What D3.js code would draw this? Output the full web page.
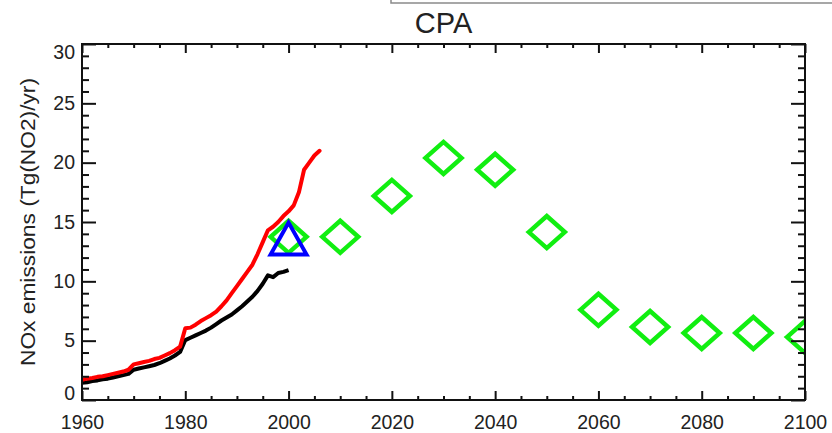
<!DOCTYPE html>
<html>
<head>
<meta charset="utf-8">
<script src="https://cdn.jsdelivr.net/npm/d3@7"></script>
<style>
  body { margin: 0; background: #fff; overflow: hidden; }
  svg { display: block; font-family: "Liberation Sans", Arial, sans-serif; }
</style>
</head>
<body>
<svg id="grafico"></svg>
<script>
// serie storica rossa (1960-2006)
var anniRosso = d3.range(1960, 2007);
var valoriRosso = [1.7, 1.8, 1.85, 1.95, 2.0, 2.1, 2.2, 2.3, 2.4, 2.55,
  3.0, 3.1, 3.2, 3.3, 3.45, 3.55, 3.75, 3.95, 4.2, 4.5,
  6.05, 6.1, 6.35, 6.65, 6.9, 7.15, 7.45, 7.9, 8.4, 9.0,
  9.6, 10.2, 10.8, 11.4, 12.3, 13.3, 14.3, 14.6, 15.0, 15.5,
  15.9, 16.4, 17.5, 19.4, 20.0, 20.6, 21.0];

// serie storica nera (1960-2000)
var anniNero = d3.range(1960, 2001);
var valoriNero = [1.45, 1.5, 1.6, 1.65, 1.75, 1.8, 1.9, 2.0, 2.1, 2.2,
  2.55, 2.65, 2.75, 2.85, 2.95, 3.1, 3.3, 3.5, 3.75, 4.05,
  5.05, 5.25, 5.45, 5.65, 5.85, 6.1, 6.4, 6.7, 6.95, 7.2,
  7.55, 7.9, 8.3, 8.7, 9.2, 9.8, 10.5, 10.35, 10.7, 10.8,
  10.95];

// scenario (rombi verdi)
var anniScenario = [2000, 2010, 2020, 2030, 2040, 2050, 2060, 2070, 2080, 2090, 2100];
var valoriScenario = [13.75, 13.75, 17.2, 20.4, 19.4, 14.15, 7.6, 6.15, 5.65, 5.65, 5.3];

// triangolo blu
var annoTriangolo = [2000];
var valoreTriangolo = [13.6];

// etichette assi
var tickX = [1960, 1980, 2000, 2020, 2040, 2060, 2080, 2100];
var tickY = [0, 5, 10, 15, 20, 25, 30];
var titolo = "CPA";
var etichettaY = "NOx emissions (Tg(NO2)/yr)";

var w = 832, h = 433;
var margin = { top: 44, right: 27, bottom: 33, left: 82 };
var innerWidth = w - margin.left - margin.right;   // 723
var innerHeight = h - margin.top - margin.bottom;  // 356

var xScale = d3.scaleLinear().domain([1960, 2100]).range([0, innerWidth]);
var yScale = d3.scaleLinear().domain([0, 30]).range([innerHeight, 0]);

var grafico = d3.select("#grafico").attr("width", w).attr("height", h);

// riquadro grigio in alto (legenda tagliata)
grafico.append("rect")
  .attr("x", 391).attr("y", -10)
  .attr("width", 470).attr("height", 13)
  .attr("fill", "none")
  .attr("stroke", "#8a8a8a")
  .attr("stroke-width", 1.5);

var area = grafico.append("g")
  .attr("transform", "translate(" + margin.left + "," + margin.top + ")");

area.append("clipPath").attr("id", "clip")
  .append("rect").attr("width", innerWidth).attr("height", innerHeight);

var dati = area.append("g").attr("clip-path", "url(#clip)");

// rombi verdi
var scenario = anniScenario.map(function(a, i) { return { anno: a, v: valoriScenario[i] }; });
dati.selectAll(".rombo")
  .data(scenario)
  .enter().append("path")
  .attr("class", "rombo")
  .attr("d", function(d) {
    var cx = xScale(d.anno), cy = yScale(d.v);
    return "M" + (cx - 18) + "," + cy + "L" + cx + "," + (cy - 16) +
      "L" + (cx + 18) + "," + cy + "L" + cx + "," + (cy + 16) + "Z";
  })
  .attr("fill", "none")
  .attr("stroke", "#11ee11")
  .attr("stroke-width", 4.5);

var linea = d3.line()
  .x(function(d) { return xScale(d.anno); })
  .y(function(d) { return yScale(d.v); });

// linea nera
var nero = anniNero.map(function(a, i) { return { anno: a, v: valoriNero[i] }; });
dati.append("path")
  .datum(nero)
  .attr("d", linea)
  .attr("fill", "none")
  .attr("stroke", "#000")
  .attr("stroke-width", 4)
  .attr("stroke-linejoin", "round");

// linea rossa
var rosso = anniRosso.map(function(a, i) { return { anno: a, v: valoriRosso[i] }; });
dati.append("path")
  .datum(rosso)
  .attr("d", linea)
  .attr("fill", "none")
  .attr("stroke", "#ff0000")
  .attr("stroke-width", 4)
  .attr("stroke-linejoin", "round")
  .attr("stroke-linecap", "round");

// triangolo blu
var triangolo = annoTriangolo.map(function(a, i) { return { anno: a, v: valoreTriangolo[i] }; });
dati.selectAll(".triangolo")
  .data(triangolo)
  .enter().append("path")
  .attr("class", "triangolo")
  .attr("d", function(d) {
    var cx = xScale(d.anno), cy = yScale(d.v);
    return "M" + cx + "," + (cy - 16) + "L" + (cx + 18) + "," + (cy + 16) +
      "L" + (cx - 18) + "," + (cy + 16) + "Z";
  })
  .attr("fill", "none")
  .attr("stroke", "#0000ff")
  .attr("stroke-width", 4);

// tick minori
var minoriX = d3.range(1960, 2101, 5).filter(function(v) { return v % 20 !== 0; });
var minoriY = d3.range(0, 31, 1).filter(function(v) { return v % 5 !== 0; });

function stileAsse(g) {
  g.select(".domain").remove();
  g.selectAll("line").attr("stroke", "#111").attr("stroke-width", 2);
  g.selectAll("text").attr("fill", "#222").style("font-size", "19.5px");
  // niente testi vuoti sugli assi senza etichette
  g.selectAll("text").filter(function() { return this.textContent === ""; }).remove();
}

// asse in basso
area.append("g")
  .attr("transform", "translate(0," + innerHeight + ")")
  .call(d3.axisBottom(xScale).tickValues(tickX).tickSize(-9).tickPadding(15).tickFormat(d3.format("d")))
  .call(stileAsse);
area.append("g")
  .attr("transform", "translate(0," + innerHeight + ")")
  .call(d3.axisBottom(xScale).tickValues(minoriX).tickSize(-4).tickFormat(""))
  .call(stileAsse);

// asse in alto
area.append("g")
  .call(d3.axisTop(xScale).tickValues(tickX).tickSize(-9).tickFormat(""))
  .call(stileAsse);
area.append("g")
  .call(d3.axisTop(xScale).tickValues(minoriX).tickSize(-4).tickFormat(""))
  .call(stileAsse);

// asse a sinistra
var asseY = area.append("g")
  .call(d3.axisLeft(yScale).tickValues(tickY).tickSize(-14).tickPadding(7))
  .call(stileAsse);
// le etichette agli estremi sono spostate verso l'interno
asseY.selectAll(".tick text")
  .attr("dy", function(d) { return d === 0 ? "-0.05em" : (d === 30 ? "0.72em" : "0.32em"); });
area.append("g")
  .call(d3.axisLeft(yScale).tickValues(minoriY).tickSize(-7).tickFormat(""))
  .call(stileAsse);

// asse a destra
area.append("g")
  .attr("transform", "translate(" + innerWidth + ",0)")
  .call(d3.axisRight(yScale).tickValues(tickY).tickSize(-14).tickFormat(""))
  .call(stileAsse);
area.append("g")
  .attr("transform", "translate(" + innerWidth + ",0)")
  .call(d3.axisRight(yScale).tickValues(minoriY).tickSize(-7).tickFormat(""))
  .call(stileAsse);

// cornice
area.append("rect")
  .attr("width", innerWidth).attr("height", innerHeight)
  .attr("fill", "none")
  .attr("stroke", "#111")
  .attr("stroke-width", 2);

// titolo
grafico.append("text")
  .attr("x", margin.left + innerWidth / 2).attr("y", 33)
  .attr("text-anchor", "middle")
  .style("font-size", "29px")
  .attr("fill", "#222")
  .text(titolo);

// etichetta asse y
grafico.append("text")
  .attr("transform", "translate(35," + (margin.top + innerHeight / 2) + ") rotate(-90)")
  .attr("text-anchor", "middle")
  .attr("textLength", 288)
  .attr("lengthAdjust", "spacingAndGlyphs")
  .style("font-size", "21px")
  .attr("fill", "#222")
  .text(etichettaY);
</script>
</body>
</html>
